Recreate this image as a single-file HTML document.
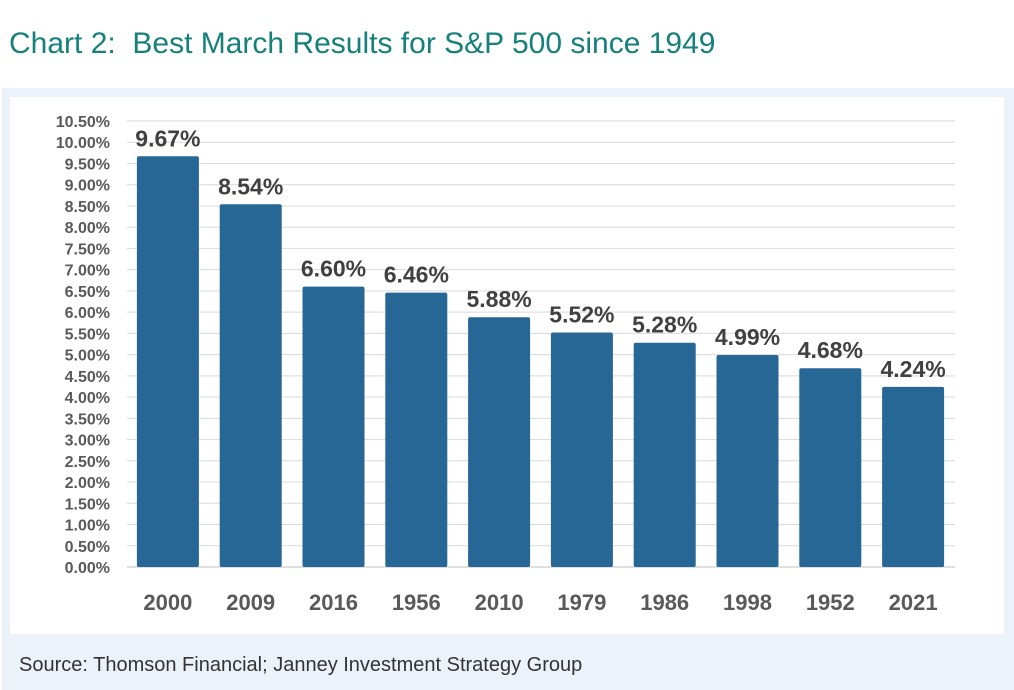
<!DOCTYPE html>
<html><head><meta charset="utf-8"><style>
body{margin:0;width:1014px;height:690px;background:#fff;font-family:"Liberation Sans",sans-serif;overflow:hidden;position:relative}
#title{position:absolute;left:9px;top:27px;font-size:30px;color:#16807a}
#outer{position:absolute;left:2px;top:88px;width:1012px;height:602px;background:#ebf2f9}
#inner{position:absolute;left:10px;top:97px;width:994px;height:537px;background:#fff}
#src{position:absolute;left:19px;top:654px;font-size:20px;color:#333}
svg{position:absolute;left:0;top:0}
</style></head><body>
<div id="title">Chart 2:&nbsp; Best March Results for S&amp;P 500 since 1949</div>
<div id="outer"></div>
<div id="inner"></div>
<div id="src">Source: Thomson Financial; Janney Investment Strategy Group</div>
<svg id="chart" width="1014" height="690"></svg>
<script>
const categories=["2000","2009","2016","1956","2010","1979","1986","1998","1952","2021"];
const values=[9.67,8.54,6.60,6.46,5.88,5.52,5.28,4.99,4.68,4.24];
const ticks=[0,0.5,1,1.5,2,2.5,3,3.5,4,4.5,5,5.5,6,6.5,7,7.5,8,8.5,9,9.5,10,10.5];
const NS="http://www.w3.org/2000/svg";
const svg=document.getElementById('chart');
const x0=127,x1=955,y0=567,yTop=121,maxV=10.5;
const y=v=>y0-(v/maxV)*(y0-yTop);
const step=(x1-x0)/categories.length;
const bw=62;
const xc=i=>x0+step*(i+0.5)-0.5;
function mk(t,a){const e=document.createElementNS(NS,t);for(const k in a)e.setAttribute(k,a[k]);svg.appendChild(e);return e;}
ticks.forEach(t=>{
 const g=mk('line',{x1:x0,x2:x1,y1:y(t),y2:y(t),stroke:t===0?'#bfbfbf':'#d9d9d9','stroke-width':1});
 
 
 const l=mk('text',{x:110,y:y(t)+6,'text-anchor':'end','font-size':16,'font-weight':'bold',fill:'#595959'});
 l.textContent=t.toFixed(2)+'%';
 
 
});
categories.forEach((c,i)=>{
 const v=values[i];
 const r=mk('rect',{x:xc(i)-bw/2,y:y(v),width:bw,height:y0-y(v),fill:'#276795',rx:2});
 
 
 const t=mk('text',{x:xc(i),y:y(v)-10,'text-anchor':'middle','font-size':23,'font-weight':'bold',fill:'#404040'});
 t.textContent=v.toFixed(2)+'%';
 
 
 const cl=mk('text',{x:xc(i),y:610,'text-anchor':'middle','font-size':22,'font-weight':'bold',fill:'#595959'});
 cl.textContent=c;
 
 
});
</script>
</body></html>
